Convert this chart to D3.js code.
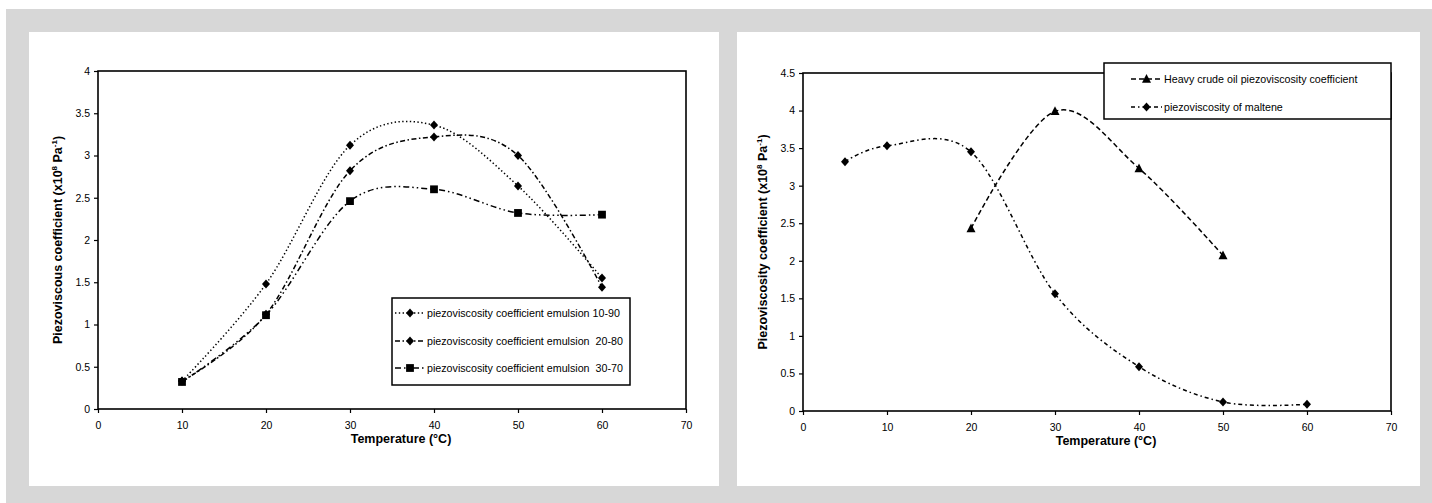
<!DOCTYPE html>
<html><head><meta charset="utf-8">
<script src="https://cdn.jsdelivr.net/npm/d3@7"></script>
<style>
html,body{margin:0;padding:0;background:#fff;}
svg{display:block;font-family:"Liberation Sans",Arial,sans-serif;}
</style></head><body>
<svg id="c" width="1432" height="503"></svg>
<script>
// ---------- data ----------
const leftTemps = [10, 20, 30, 40, 50, 60];
const emulsion1090 = [0.33, 1.48, 3.12, 3.36, 2.64, 1.55];
const emulsion2080 = [0.33, 1.12, 2.82, 3.22, 3.00, 1.44];
const emulsion3070 = [0.32, 1.11, 2.46, 2.60, 2.32, 2.30];
const leftNames = ["piezoviscosity coefficient emulsion 10-90",
                   "piezoviscosity coefficient emulsion  20-80",
                   "piezoviscosity coefficient emulsion  30-70"];

const crudeTemps = [20, 30, 40, 50];
const heavyCrude = [2.43, 3.99, 3.23, 2.07];
const malteneTemps = [5, 10, 20, 30, 40, 50, 60];
const maltene = [3.32, 3.53, 3.45, 1.56, 0.59, 0.12, 0.09];
const rightNames = ["Heavy crude oil piezoviscosity coefficient", "piezoviscosity of maltene"];

const xTicks = [0, 10, 20, 30, 40, 50, 60, 70];
const leftYTicks = [0, 0.5, 1, 1.5, 2, 2.5, 3, 3.5, 4];
const rightYTicks = [0, 0.5, 1, 1.5, 2, 2.5, 3, 3.5, 4, 4.5];
const xTitle = "Temperature (°C)";
const leftYTitle = "Piezoviscous coefficient";
const rightYTitle = "Piezoviscosity coefficient";

// ---------- helpers ----------
const svg = d3.select("#c");
svg.append("rect").attr("x", 6).attr("y", 9).attr("width", 1426).attr("height", 494).attr("fill", "#d7d7d7");
svg.append("rect").attr("x", 29).attr("y", 32).attr("width", 690).attr("height", 454).attr("fill", "#fff");
svg.append("rect").attr("x", 737).attr("y", 32).attr("width", 683).attr("height", 454).attr("fill", "#fff");

function marker(g, type, cx, cy) {
  let d;
  if (type === "diamond") d = `M${cx},${cy-4.5}L${cx+4},${cy}L${cx},${cy+4.5}L${cx-4},${cy}Z`;
  else if (type === "square") d = `M${cx-3.9},${cy-3.9}h7.8v7.8h-7.8Z`;
  else d = `M${cx},${cy-5}L${cx+4.5},${cy+3.8}L${cx-4.5},${cy+3.8}Z`;
  g.append("path").attr("d", d).attr("fill", "#000");
}

function drawChart(o) {
  const g = svg.append("g");
  const x = d3.scaleLinear().domain([0, 70]).range([o.left, o.right]);
  const y = d3.scaleLinear().domain([0, o.yMax]).range([o.bottom, o.top]);

  // axes
  const xa = g.append("g").attr("transform", `translate(0,${o.bottom})`)
    .call(d3.axisBottom(x).tickValues(xTicks).tickFormat(d => String(d)).tickSizeOuter(0).tickSize(4).tickPadding(9));
  const ya = g.append("g").attr("transform", `translate(${o.left},0)`)
    .call(d3.axisLeft(y).tickValues(o.yTicks).tickFormat(d => String(d)).tickSizeOuter(0).tickSize(4).tickPadding(4));
  [xa, ya].forEach(a => {
    a.select(".domain").remove();
    a.selectAll("line").attr("stroke", "#000").attr("stroke-width", 1.2);
    a.selectAll("text").attr("font-size", "10.5px").attr("fill", "#000").attr("font-family", '"Liberation Sans",Arial,sans-serif');
  });
  // plot frame
  g.append("rect").attr("x", o.left).attr("y", o.top).attr("width", o.right - o.left).attr("height", o.bottom - o.top)
    .attr("fill", "none").attr("stroke", "#000").attr("stroke-width", 1.6);

  // series
  const line = d3.line().x(d => x(d[0])).y(d => y(d[1])).curve(d3.curveCardinal.tension(0));
  o.series.forEach(s => {
    const pts = s.xs.map((t, i) => [t, s.ys[i]]);
    g.append("path").attr("d", line(pts)).attr("fill", "none").attr("stroke", "#000")
      .attr("stroke-width", 1.5).attr("stroke-dasharray", s.dash);
    pts.forEach(p => marker(g, s.marker, x(p[0]), y(p[1])));
  });

  // titles
  const xc = (o.left + o.right) / 2 + 9;
  g.append("text").attr("x", xc).attr("y", o.bottom + 34).attr("text-anchor", "middle")
    .attr("font-size", "12.5px").attr("font-weight", "bold").text(xTitle);
  const yc = (o.top + o.bottom) / 2;
  const yt = g.append("text").attr("transform", `translate(${o.left - 36},${yc}) rotate(-90)`)
    .attr("text-anchor", "middle").attr("font-size", "12.5px").attr("font-weight", "bold");
  yt.append("tspan").text(o.yTitle + " (x10");
  yt.append("tspan").attr("dy", -5).attr("font-size", "8px").text("8");
  yt.append("tspan").attr("dy", 5).text(" Pa");
  yt.append("tspan").attr("dy", -5).attr("font-size", "8px").text("-1");
  yt.append("tspan").attr("dy", 5).text(")");

  // legend
  const L = o.legend;
  g.append("rect").attr("x", L.x0).attr("y", L.y0).attr("width", L.x1 - L.x0).attr("height", L.y1 - L.y0)
    .attr("fill", "#fff").attr("stroke", "#000").attr("stroke-width", 1.5);
  o.series.forEach((s, i) => {
    const ly = L.rows[i];
    g.append("line").attr("x1", L.lx0).attr("x2", L.lx1).attr("y1", ly).attr("y2", ly)
      .attr("stroke", "#000").attr("stroke-width", 1.5).attr("stroke-dasharray", s.dash);
    marker(g, s.marker, (L.lx0 + L.lx1) / 2, ly);
    g.append("text").attr("x", L.tx).attr("y", ly).attr("dy", "0.35em").attr("font-size", "10.7px")
      .style("white-space", "pre").text(s.name);
  });
}

drawChart({
  left: 98, right: 686, top: 71, bottom: 409, yMax: 4, yTicks: leftYTicks, yTitle: leftYTitle,
  series: [
    {name: leftNames[0], xs: leftTemps, ys: emulsion1090, marker: "diamond", dash: "1.4,2.4"},
    {name: leftNames[1], xs: leftTemps, ys: emulsion2080, marker: "diamond", dash: "5,2.5,1.5,2.5"},
    {name: leftNames[2], xs: leftTemps, ys: emulsion3070, marker: "square", dash: "6,3,1.5,3,1.5,3"}
  ],
  legend: {x0: 392, x1: 630, y0: 298, y1: 385, rows: [313, 341, 368], lx0: 395, lx1: 425, tx: 427}
});

drawChart({
  left: 803, right: 1391, top: 73, bottom: 411, yMax: 4.5, yTicks: rightYTicks, yTitle: rightYTitle,
  series: [
    {name: rightNames[0], xs: crudeTemps, ys: heavyCrude, marker: "triangle", dash: "5,3"},
    {name: rightNames[1], xs: malteneTemps, ys: maltene, marker: "diamond", dash: "4,3,1.5,3"}
  ],
  legend: {x0: 1104, x1: 1391, y0: 63, y1: 119, rows: [79, 107], lx0: 1131, lx1: 1162, tx: 1164}
});
</script>
</body></html>
